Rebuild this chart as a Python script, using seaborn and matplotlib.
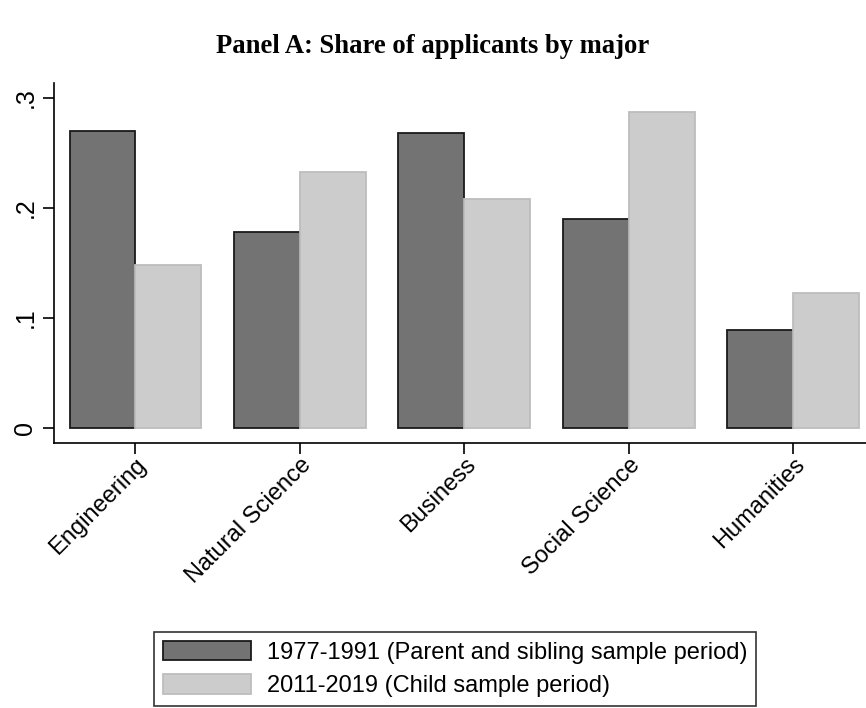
import matplotlib
matplotlib.use("Agg")
import matplotlib.pyplot as plt
from matplotlib.patches import Patch
import seaborn as sns
import pandas as pd

sns.set_theme(style="white")
plt.rcParams["font.family"] = ["Liberation Sans", "DejaVu Sans"]
plt.rcParams["text.color"] = "black"
plt.rcParams["xtick.color"] = "black"
plt.rcParams["ytick.color"] = "black"

# Daten
majors = ["Engineering", "Natural Science", "Business", "Social Science", "Humanities"]
periods = ["1977-1991 (Parent and sibling sample period)", "2011-2019 (Child sample period)"]
share_parent = [0.270, 0.178, 0.268, 0.190, 0.089]
share_child = [0.148, 0.232, 0.208, 0.287, 0.122]
y_ticks = [0, 0.1, 0.2, 0.3]
y_tick_labels = ["0", ".1", ".2", ".3"]

FILL = ["#737373", "#cccccc"]
EDGE = ["#1a1a1a", "#bdbdbd"]

df = pd.DataFrame({
    "Major": majors * 2,
    "Period": [periods[0]] * len(majors) + [periods[1]] * len(majors),
    "Share": share_parent + share_child,
})

fig = plt.figure(figsize=(8.66, 7.08), dpi=100)
ax = fig.add_axes([0.0624, 0.3747, 0.9376, 0.508])

sns.barplot(
    data=df, x="Major", y="Share", hue="Period", order=majors, hue_order=periods,
    palette=FILL, saturation=1, width=0.8, ax=ax, legend=False,
)
for container, ec in zip(ax.containers, EDGE):
    for bar in container:
        bar.set_edgecolor(ec)
        bar.set_linewidth(1.3)

ax.set_xlim(-0.494, 4.442)
ax.set_ylim(-0.0138, 0.3133)
ax.set_yticks(y_ticks)
ax.set_yticklabels(y_tick_labels, rotation=90, va="center", fontsize=18)
ax.set_xticks(range(len(majors)))
ax.set_xticklabels(majors, rotation=45, ha="right", va="top", rotation_mode="anchor", fontsize=17)
ax.tick_params(axis="both", direction="out", length=8, width=1.2, color="black", bottom=True, left=True)
ax.tick_params(axis="y", pad=4)
ax.tick_params(axis="x", pad=0)
ax.set_xlabel("")
ax.set_ylabel("")
for side in ["top", "right"]:
    ax.spines[side].set_visible(False)
for side in ["left", "bottom"]:
    ax.spines[side].set_color("black")
    ax.spines[side].set_linewidth(1.2)

fig.text(0.5, 0.935, "Panel A: Share of applicants by major", ha="center", va="center",
         fontsize=19.2, fontweight="bold", color="black",
         family=["Liberation Serif", "DejaVu Serif"])

handles = [Patch(facecolor=f, edgecolor=e, linewidth=1.3) for f, e in zip(FILL, EDGE)]
leg = fig.legend(handles, periods, loc="lower center", bbox_to_anchor=(0.5254, 0.0),
                 ncol=1, fontsize=17, frameon=True, fancybox=False, edgecolor="black",
                 handlelength=3.73, handleheight=0.91, handletextpad=0.68, labelspacing=0.45,
                 borderpad=0.35, borderaxespad=0.1)
leg.get_frame().set_linewidth(1.2)

fig.savefig("out.png", dpi=100)
plt.close(fig)
